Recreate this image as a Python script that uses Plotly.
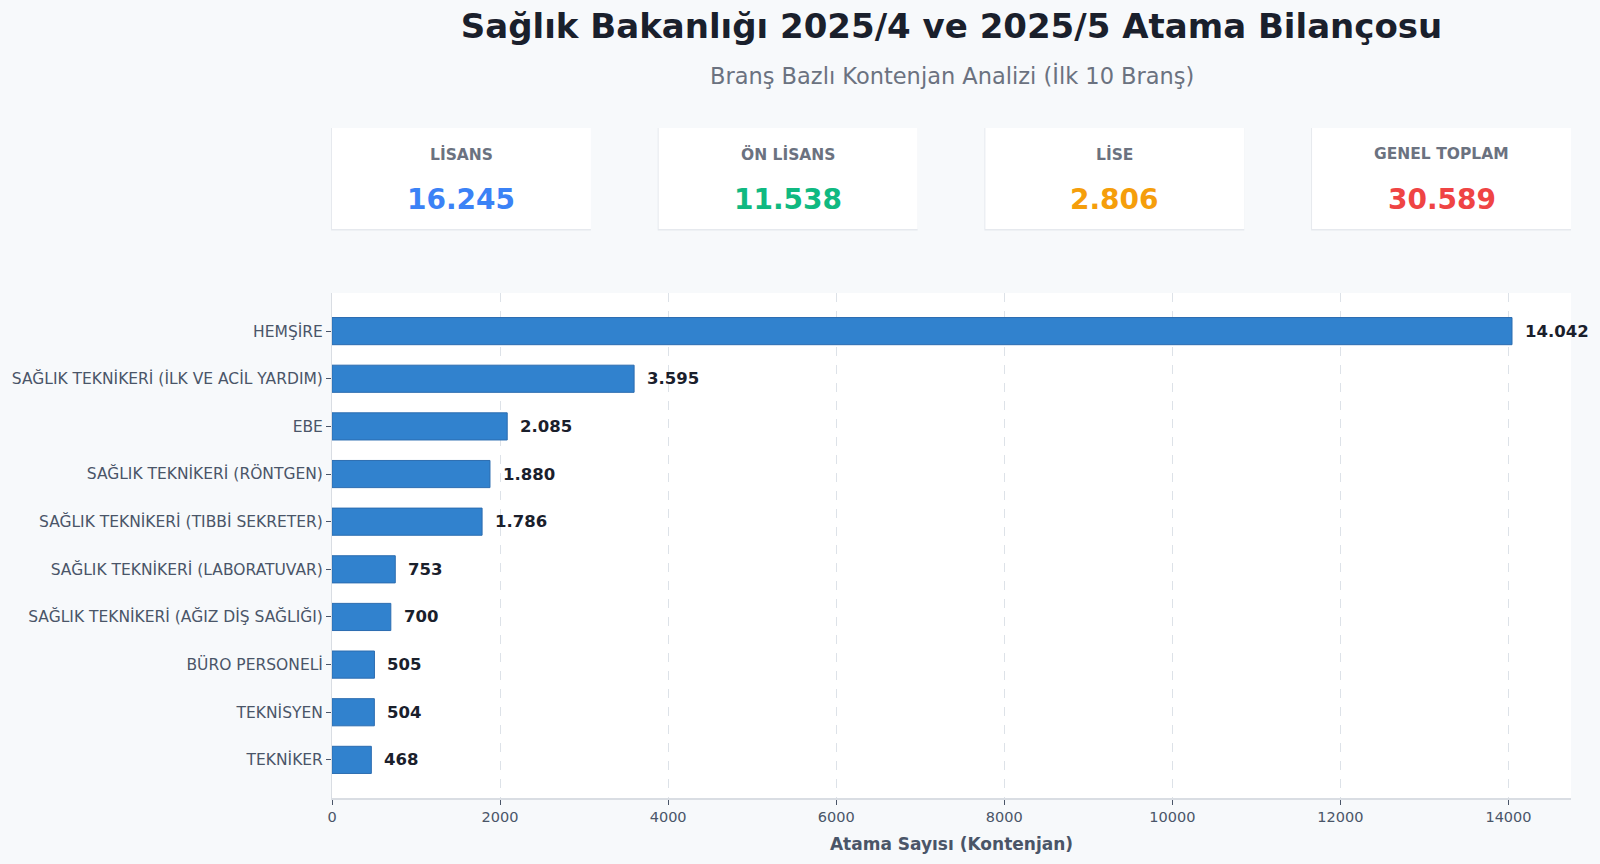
import plotly.graph_objects as go

categories = [
    "HEMŞİRE",
    "SAĞLIK TEKNİKERİ (İLK VE ACİL YARDIM)",
    "EBE",
    "SAĞLIK TEKNİKERİ (RÖNTGEN)",
    "SAĞLIK TEKNİKERİ (TIBBİ SEKRETER)",
    "SAĞLIK TEKNİKERİ (LABORATUVAR)",
    "SAĞLIK TEKNİKERİ (AĞIZ DİŞ SAĞLIĞI)",
    "BÜRO PERSONELİ",
    "TEKNİSYEN",
    "TEKNİKER",
]
values = [14042, 3595, 2085, 1880, 1786, 753, 700, 505, 504, 468]

card_labels = ["LİSANS", "ÖN LİSANS", "LİSE", "GENEL TOPLAM"]
card_values = [16245, 11538, 2806, 30589]
card_colors = ["#3b82f6", "#10b981", "#f59e0b", "#ef4444"]

title_text = "Sağlık Bakanlığı 2025/4 ve 2025/5 Atama Bilançosu"
subtitle_text = "Branş Bazlı Kontenjan Analizi (İlk 10 Branş)"
xaxis_title = "Atama Sayısı (Kontenjan)"


def tr_fmt(v):
    return f"{v:,}".replace(",", ".")


FONT = "DejaVu Sans"

fig = go.Figure()
fig.add_trace(go.Bar(
    x=values,
    y=categories,
    orientation="h",
    marker=dict(color="#3182ce", line=dict(color="#2b6cb0", width=1)),
    width=0.57,
    hoverinfo="x+y",
))

annotations = []
for c, v in zip(categories, values):
    annotations.append(dict(
        x=v, y=c, xref="x", yref="y", text=tr_fmt(v), showarrow=False,
        xanchor="left", yanchor="middle", xshift=11,
        font=dict(family=FONT, size=16.5, color="#1a202c", weight="bold"),
    ))

# KPI cards
plot_top, plot_bottom = 293, 798
ph = plot_bottom - plot_top
def py(pix):
    return (plot_bottom - pix) / ph

card_w = 0.209
gap = (1 - 4 * card_w) / 3
shapes = []
for i, (lab, val, col) in enumerate(zip(card_labels, card_values, card_colors)):
    x0 = i * (card_w + gap)
    x1 = x0 + card_w
    shapes.append(dict(type="rect", xref="paper", yref="paper",
                       x0=x0 - 0.0008, x1=x1, y0=py(230.5), y1=py(128),
                       fillcolor="#e6e9ee", line=dict(width=0), layer="below"))
    shapes.append(dict(type="rect", xref="paper", yref="paper",
                       x0=x0, x1=x1, y0=py(229), y1=py(128),
                       fillcolor="#ffffff", line=dict(width=0), layer="below"))
    annotations.append(dict(
        x=(x0 + x1) / 2, y=py(154), xref="paper", yref="paper", text=lab,
        showarrow=False, xanchor="center", yanchor="middle",
        font=dict(family=FONT, size=15.5, color="#6b7280", weight="bold"),
    ))
    annotations.append(dict(
        x=(x0 + x1) / 2, y=py(199), xref="paper", yref="paper", text=tr_fmt(val),
        showarrow=False, xanchor="center", yanchor="middle",
        font=dict(family=FONT, size=28, color=col, weight="bold"),
    ))

annotations.append(dict(
    x=0.5, y=py(75), xref="paper", yref="paper", text=subtitle_text,
    showarrow=False, xanchor="center", yanchor="middle",
    font=dict(family=FONT, size=22.5, color="#6b7280"),
))

fig.update_layout(
    width=1600, height=864,
    margin=dict(l=332, r=29, t=293, b=66),
    paper_bgcolor="#f7f9fb",
    plot_bgcolor="#ffffff",
    showlegend=False,
    title=dict(text=title_text, x=(332 + 1571) / 2 / 1600, xanchor="center",
               y=1 - 26 / 864, yanchor="middle",
               font=dict(family=FONT, size=34, color="#1a202c", weight="bold")),
    font=dict(family=FONT, color="#4a5568"),
    annotations=annotations,
    shapes=shapes,
    xaxis=dict(
        range=[0, 14042 * 1.05],
        dtick=2000, tickformat="d",
        showgrid=True, gridcolor="#dde2e8", griddash="dash", gridwidth=1,
        zeroline=False,
        showline=True, linecolor="#d9dde3", linewidth=2,
        ticks="outside", ticklen=5, tickcolor="#4a5568",
        tickfont=dict(family=FONT, size=14.5, color="#4a5568"),
        title=dict(text=xaxis_title, standoff=14,
                   font=dict(family=FONT, size=17, color="#4a5568", weight="bold")),
    ),
    yaxis=dict(
        autorange=False,
        range=[9.8, -0.8],
        showgrid=False, zeroline=False,
        showline=True, linecolor="#d9dde3", linewidth=1,
        ticks="outside", ticklen=5, tickcolor="#4a5568",
        tickfont=dict(family=FONT, size=15.5, color="#4a5568"),
    ),
)

fig.write_html("out.html")
